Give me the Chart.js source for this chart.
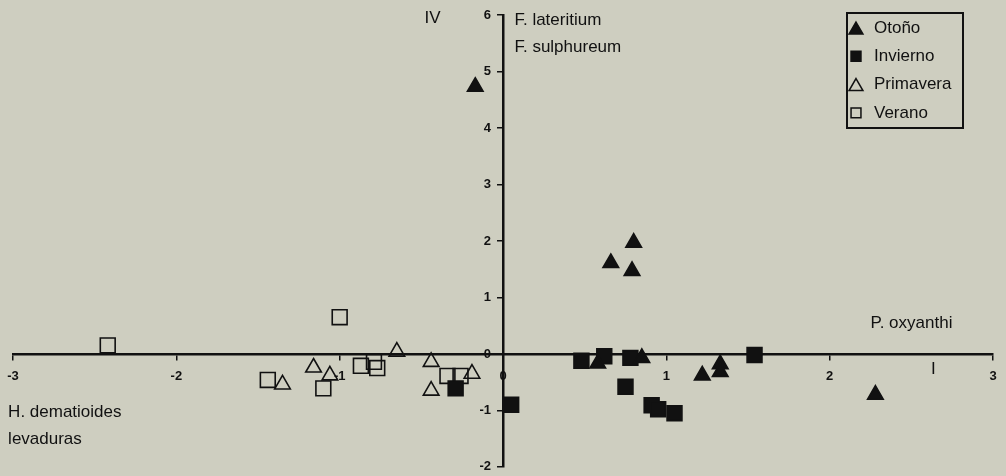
<!DOCTYPE html>
<html>
<head>
<meta charset="utf-8">
<script src="https://cdn.jsdelivr.net/npm/chart.js@4.4.1/dist/chart.umd.min.js"></script>
<style>
    html, body { margin: 0; padding: 0; background: #cecec0; overflow: hidden; }
    #wrap { width: 1006px; height: 479px; }
</style>
</head>
<body>
<div id="wrap"><canvas id="grafico"></canvas></div>
<script>
// estaciones y puntos (eje x, eje y)
const estaciones = ['Otoño', 'Invierno', 'Primavera', 'Verano'];

const otonoX = [-0.17, 0.66, 0.80, 0.79, 0.58, 0.85, 1.22, 1.33, 1.33, 2.28];
const otonoY = [4.73, 1.61, 1.97, 1.47, -0.17, -0.07, -0.38, -0.18, -0.32, -0.72];

const inviernoX = [-0.29, 0.05, 0.48, 0.62, 0.78, 0.75, 0.91, 0.95, 1.05, 1.54];
const inviernoY = [-0.61, -0.90, -0.12, -0.04, -0.07, -0.58, -0.91, -0.98, -1.05, -0.02];

const primaveraX = [-1.16, -1.06, -1.35, -0.65, -0.44, -0.44, -0.19];
const primaveraY = [-0.24, -0.38, -0.54, 0.04, -0.14, -0.65, -0.35];

const veranoX = [-2.42, -1.44, -1.10, -1.00, -0.87, -0.79, -0.77, -0.34, -0.26];
const veranoY = [0.15, -0.46, -0.61, 0.65, -0.21, -0.14, -0.25, -0.39, -0.39];

const ticksX = [-3, -2, -1, 0, 1, 2, 3];
const ticksY = [-2, -1, 0, 1, 2, 3, 4, 5, 6];

// rótulos de los ejes / cuadrantes
const notas = [
    { texto: 'IV', x: -0.48, y: 5.94 },
    { texto: 'F. lateritium', x: 0.07, y: 5.9 },
    { texto: 'F. sulphureum', x: 0.07, y: 5.43 },
    { texto: 'P. oxyanthi', x: 2.25, y: 0.55 },
    { texto: 'I', x: 2.62, y: -0.27 },
    { texto: 'H. dematioides', x: -3.03, y: -1.03 },
    { texto: 'levaduras', x: -3.03, y: -1.52 }
];

const fuente = '"Liberation Sans", Arial, sans-serif';

function puntos(xs, ys) {
    return xs.map((x, i) => ({ x: x, y: ys[i] }));
}

const estilos = [
    { style: 'triangle', fill: '#111', radius: 9 },
    { style: 'rect', fill: '#111', radius: 10.5 },
    { style: 'triangle', fill: 'rgba(0,0,0,0)', radius: 9 },
    { style: 'rect', fill: 'rgba(0,0,0,0)', radius: 10.5 }
];

const series = [
    puntos(otonoX, otonoY),
    puntos(inviernoX, inviernoY),
    puntos(primaveraX, primaveraY),
    puntos(veranoX, veranoY)
];

const datasets = estaciones.map((nombre, i) => ({
    label: nombre,
    data: series[i],
    pointStyle: estilos[i].style,
    pointRadius: estilos[i].radius,
    pointHoverRadius: estilos[i].radius,
    backgroundColor: estilos[i].fill,
    borderColor: '#111',
    borderWidth: 1.6
}));

function sinRelleno(axis) {
    axis.paddingTop = 0;
    axis.paddingBottom = 0;
    axis.paddingLeft = 0;
    axis.paddingRight = 0;
    if (axis.isHorizontal()) {
        axis.height = 0;
    } else {
        axis.width = 0;
    }
}

// etiquetas de los ejes, debajo de las líneas de los ejes
const etiquetasEjes = {
    id: 'etiquetasEjes',
    beforeDraw(chart) {
        const ctx = chart.ctx;
        const sx = chart.scales.x;
        const sy = chart.scales.y;
        const x0 = sx.getPixelForValue(0);
        const y0 = sy.getPixelForValue(0);
        ctx.save();
        ctx.fillStyle = '#111';
        ctx.textBaseline = 'middle';
        ctx.font = 'bold 13px ' + fuente;
        ctx.textAlign = 'right';
        ticksY.forEach(v => {
            ctx.fillText(String(v), x0 - 12, sy.getPixelForValue(v));
        });
        ctx.textAlign = 'center';
        ticksX.forEach(v => {
            ctx.fillText(String(v), sx.getPixelForValue(v), y0 + 22);
        });
        ctx.restore();
    }
};

const notasPlugin = {
    id: 'notas',
    afterDraw(chart) {
        const ctx = chart.ctx;
        const sx = chart.scales.x;
        const sy = chart.scales.y;
        ctx.save();
        ctx.fillStyle = '#111';
        ctx.textBaseline = 'middle';
        ctx.font = '17px ' + fuente;
        ctx.textAlign = 'left';
        notas.forEach(n => {
            ctx.fillText(n.texto, sx.getPixelForValue(n.x), sy.getPixelForValue(n.y));
        });
        ctx.restore();
    }
};

const leyendaPlugin = {
    id: 'leyenda',
    afterDraw(chart) {
        const ctx = chart.ctx;
        const izq = 847, arriba = 13, ancho = 116, alto = 115;
        ctx.save();
        ctx.fillStyle = '#cecec0';
        ctx.fillRect(izq, arriba, ancho, alto);
        ctx.strokeStyle = '#111';
        ctx.lineWidth = 2;
        ctx.strokeRect(izq, arriba, ancho, alto);
        ctx.font = '17px ' + fuente;
        ctx.textBaseline = 'middle';
        estaciones.forEach((nombre, i) => {
            const y = arriba + 15 + i * 28.3;
            const e = estilos[i];
            ctx.fillStyle = e.fill;
            ctx.strokeStyle = '#111';
            ctx.lineWidth = 1.5;
            const r = e.style === 'rect' ? 7 : 8;
            const cy = e.style === 'triangle' ? y + 2 : y;
            Chart.helpers.drawPoint(ctx, { pointStyle: e.style, radius: r, borderWidth: 1.5 }, izq + 9, cy);
            ctx.fillStyle = '#111';
            ctx.fillText(nombre, izq + 27, y);
        });
        ctx.restore();
    }
};

const ctx = document.getElementById('grafico').getContext('2d');
new Chart(ctx, {
    type: 'scatter',
    data: { datasets: datasets },
    options: {
        responsive: true,
        maintainAspectRatio: false,
        animation: false,
        layout: {
            padding: { left: 13, right: 13, top: 15, bottom: 9 }
        },
        plugins: {
            legend: { display: false },
            tooltip: { enabled: false }
        },
        scales: {
            x: {
                type: 'linear',
                min: -3,
                max: 3,
                position: { y: 0 },
                afterBuildTicks: axis => { axis.ticks = ticksX.map(v => ({ value: v })); },
                afterFit: sinRelleno,
                grid: {
                    drawOnChartArea: false,
                    drawTicks: true,
                    tickLength: 5,
                    color: '#111',
                    lineWidth: 1.5
                },
                border: { display: true, color: '#111', width: 2.5 },
                ticks: { display: false }
            },
            y: {
                type: 'linear',
                min: -2,
                max: 6,
                position: { x: 0 },
                afterBuildTicks: axis => { axis.ticks = ticksY.map(v => ({ value: v })); },
                afterFit: sinRelleno,
                grid: {
                    drawOnChartArea: false,
                    drawTicks: true,
                    tickLength: 5,
                    color: '#111',
                    lineWidth: 1.5
                },
                border: { display: true, color: '#111', width: 2.5 },
                ticks: { display: false }
            }
        }
    },
    plugins: [etiquetasEjes, notasPlugin, leyendaPlugin]
});
</script>
</body>
</html>
